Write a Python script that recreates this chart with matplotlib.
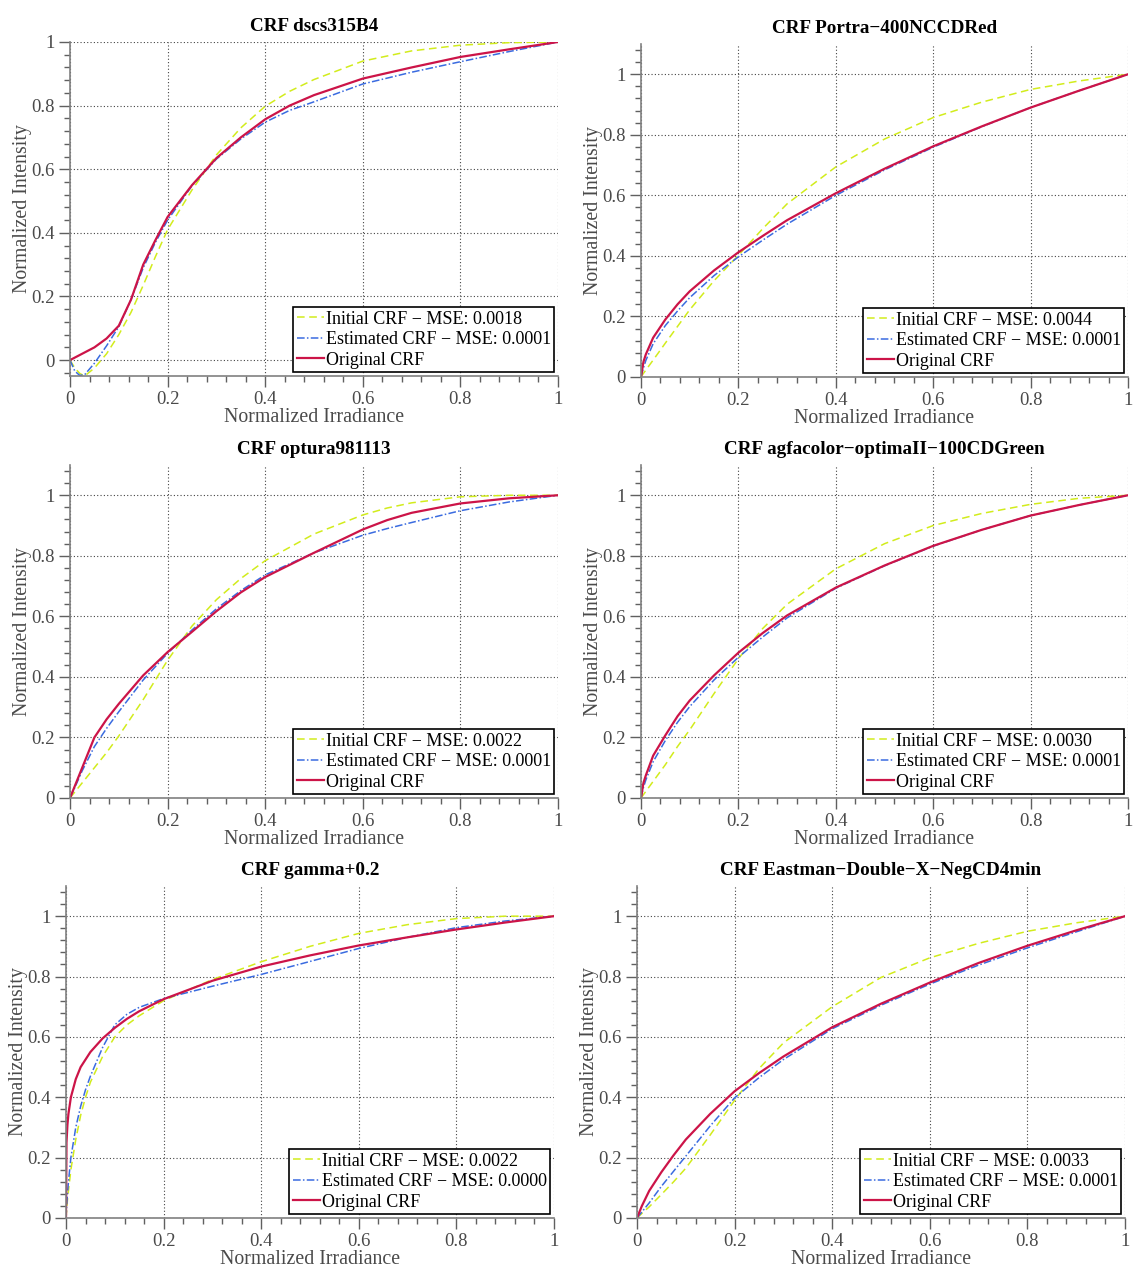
import matplotlib
matplotlib.use("Agg")
import matplotlib.pyplot as plt
from matplotlib.ticker import MultipleLocator, FuncFormatter

plt.rcParams['font.family'] = ['Liberation Serif', 'DejaVu Serif']

titles = ["CRF dscs315B4", "CRF Portra\u2212400NCCDRed", "CRF optura981113",
          "CRF agfacolor\u2212optimaII\u2212100CDGreen", "CRF gamma+0.2",
          "CRF Eastman\u2212Double\u2212X\u2212NegCD4min"]
mse_init = ["0.0018", "0.0044", "0.0022", "0.0030", "0.0022", "0.0033"]
mse_est = ["0.0001", "0.0001", "0.0001", "0.0001", "0.0000", "0.0001"]

# Panel 1
x1 = [0, 0.01, 0.02, 0.03, 0.05, 0.075, 0.1, 0.125, 0.15, 0.175, 0.2, 0.25, 0.3, 0.35, 0.4, 0.45, 0.5, 0.6, 0.7, 0.8, 0.9, 1.0]
orig1 = [0, 0.008, 0.016, 0.024, 0.04, 0.068, 0.108, 0.19, 0.30, 0.377, 0.45, 0.55, 0.635, 0.70, 0.757, 0.80, 0.833, 0.885, 0.92, 0.953, 0.977, 1.0]
est1 = [0, -0.035, -0.048, -0.046, -0.01, 0.045, 0.105, 0.19, 0.29, 0.37, 0.44, 0.548, 0.632, 0.695, 0.748, 0.785, 0.812, 0.868, 0.905, 0.938, 0.97, 1.0]
init1 = [0, -0.025, -0.042, -0.05, -0.025, 0.02, 0.08, 0.15, 0.235, 0.325, 0.41, 0.535, 0.645, 0.73, 0.798, 0.845, 0.882, 0.94, 0.972, 0.99, 0.998, 1.0]

# Panel 2
x2 = [0, 0.005, 0.01, 0.025, 0.05, 0.075, 0.1, 0.15, 0.2, 0.25, 0.3, 0.4, 0.5, 0.6, 0.7, 0.8, 0.9, 1.0]
orig2 = [0, 0.05, 0.075, 0.13, 0.19, 0.24, 0.283, 0.352, 0.412, 0.466, 0.518, 0.607, 0.688, 0.762, 0.828, 0.89, 0.946, 1.0]
est2 = [0, 0.03, 0.055, 0.11, 0.17, 0.218, 0.262, 0.335, 0.397, 0.452, 0.505, 0.600, 0.684, 0.759, 0.827, 0.89, 0.946, 1.0]
init2 = [0, 0.012, 0.023, 0.056, 0.112, 0.167, 0.222, 0.318, 0.402, 0.49, 0.572, 0.694, 0.786, 0.857, 0.908, 0.95, 0.978, 1.0]

# Panel 3
x3 = [0, 0.01, 0.025, 0.05, 0.075, 0.1, 0.15, 0.2, 0.25, 0.3, 0.35, 0.4, 0.5, 0.6, 0.65, 0.7, 0.8, 0.9, 1.0]
orig3 = [0, 0.04, 0.1, 0.2, 0.26, 0.311, 0.405, 0.482, 0.549, 0.617, 0.679, 0.73, 0.81, 0.887, 0.918, 0.942, 0.973, 0.99, 1.0]
est3 = [0, 0.035, 0.09, 0.17, 0.23, 0.285, 0.39, 0.478, 0.555, 0.625, 0.685, 0.737, 0.81, 0.868, 0.89, 0.91, 0.949, 0.978, 1.0]
init3 = [0, 0.02, 0.05, 0.1, 0.15, 0.205, 0.325, 0.455, 0.568, 0.655, 0.725, 0.784, 0.872, 0.935, 0.958, 0.975, 0.995, 1.0, 1.0]

# Panel 4
x4 = [0, 0.005, 0.01, 0.025, 0.05, 0.075, 0.1, 0.15, 0.2, 0.25, 0.3, 0.4, 0.5, 0.6, 0.7, 0.8, 0.9, 1.0]
orig4 = [0, 0.05, 0.075, 0.14, 0.207, 0.27, 0.322, 0.405, 0.48, 0.545, 0.603, 0.695, 0.768, 0.833, 0.886, 0.933, 0.968, 1.0]
est4 = [0, 0.035, 0.06, 0.12, 0.19, 0.25, 0.302, 0.39, 0.465, 0.532, 0.595, 0.693, 0.767, 0.832, 0.886, 0.933, 0.968, 1.0]
init4 = [0, 0.011, 0.022, 0.055, 0.11, 0.17, 0.225, 0.345, 0.46, 0.56, 0.64, 0.757, 0.84, 0.9, 0.94, 0.97, 0.99, 1.0]

# Panel 5
x5 = [0, 0.001, 0.003, 0.005, 0.01, 0.02, 0.03, 0.04, 0.05, 0.075, 0.1, 0.125, 0.15, 0.2, 0.3, 0.4, 0.5, 0.6, 0.7, 0.8, 0.9, 1.0]
orig5 = [0, 0.25, 0.31, 0.345, 0.40, 0.46, 0.50, 0.525, 0.55, 0.595, 0.63, 0.66, 0.685, 0.725, 0.786, 0.833, 0.87, 0.903, 0.93, 0.956, 0.979, 1.0]
est5 = [0, 0.03, 0.08, 0.12, 0.2, 0.3, 0.37, 0.425, 0.47, 0.565, 0.64, 0.675, 0.698, 0.727, 0.768, 0.807, 0.85, 0.893, 0.93, 0.962, 0.984, 1.0]
init5 = [0, 0.02, 0.06, 0.09, 0.16, 0.26, 0.34, 0.40, 0.45, 0.535, 0.6, 0.64, 0.67, 0.72, 0.79, 0.849, 0.9, 0.943, 0.972, 0.992, 1.0, 1.0]

# Panel 6
x6 = [0, 0.01, 0.025, 0.05, 0.075, 0.1, 0.15, 0.2, 0.25, 0.3, 0.4, 0.5, 0.6, 0.7, 0.8, 0.9, 1.0]
orig6 = [0, 0.04, 0.09, 0.152, 0.208, 0.26, 0.345, 0.42, 0.48, 0.535, 0.632, 0.71, 0.78, 0.845, 0.902, 0.953, 1.0]
est6 = [0, 0.02, 0.05, 0.105, 0.155, 0.205, 0.305, 0.398, 0.465, 0.525, 0.627, 0.705, 0.775, 0.838, 0.895, 0.948, 1.0]
init6 = [0, 0.015, 0.037, 0.078, 0.12, 0.165, 0.275, 0.39, 0.495, 0.58, 0.70, 0.797, 0.862, 0.91, 0.95, 0.978, 1.0]

panels = [(x1, init1, est1, orig1), (x2, init2, est2, orig2), (x3, init3, est3, orig3),
          (x4, init4, est4, orig4), (x5, init5, est5, orig5), (x6, init6, est6, orig6)]
ylims = [(-0.05, 1.0), (0, 1.1), (0, 1.1), (0, 1.1), (0, 1.1), (0, 1.1)]

W, H = 1133, 1268
# pixel boxes: left, right, top, bottom
boxes = [(70, 558, 42, 376), (641, 1128, 44, 377),
         (70, 558, 465, 798), (641, 1128, 465, 798),
         (66, 554, 886, 1218), (637, 1125, 886, 1218)]

C_INIT = '#d2ec1c'
C_EST = '#3a6be0'
C_ORIG = '#cc1448'
TXT = '#4a4a4a'

fig = plt.figure(figsize=(W / 100, H / 100), dpi=100)

for i, (box, data) in enumerate(zip(boxes, panels)):
    l, r, t, b = box
    ax = fig.add_axes([l / W, 1 - b / H, (r - l) / W, (b - t) / H])
    x, yi, ye, yo = data
    ax.plot(x, yi, color=C_INIT, lw=1.1, ls=(0, (5, 3)),
            label='Initial CRF \u2212 MSE: ' + mse_init[i])
    ax.plot(x, ye, color=C_EST, lw=1.1, ls=(0, (5, 1.5, 1, 1.5)),
            label='Estimated CRF \u2212 MSE: ' + mse_est[i])
    ax.plot(x, yo, color=C_ORIG, lw=1.6, ls='-', label='Original CRF')
    ax.set_xlim(0, 1)
    ax.set_ylim(*ylims[i])
    ax.xaxis.set_major_locator(MultipleLocator(0.2))
    ax.yaxis.set_major_locator(MultipleLocator(0.2))
    ax.xaxis.set_minor_locator(MultipleLocator(0.04))
    ax.yaxis.set_minor_locator(MultipleLocator(0.04))
    fmt = FuncFormatter(lambda v, p: '{:g}'.format(round(v, 4)))
    ax.xaxis.set_major_formatter(fmt)
    ax.yaxis.set_major_formatter(fmt)
    ax.grid(True, which='major', color='#444444', lw=0.8, ls=(0, (1, 2)))
    for s in ('top', 'right'):
        ax.spines[s].set_visible(False)
    for s in ('left', 'bottom'):
        ax.spines[s].set_color('#808080')
        ax.spines[s].set_linewidth(1.2)
    ax.tick_params(which='major', direction='out', length=8, width=1, color='#606060',
                   labelsize=13.5, labelcolor=TXT, pad=3)
    ax.tick_params(which='minor', direction='out', length=4, width=1, color='#606060')
    ax.set_xlabel('Normalized Irradiance', fontsize=14.3, color=TXT, labelpad=0)
    ax.set_ylabel('Normalized Intensity', fontsize=14.3, color=TXT, labelpad=-0.5)
    ax.set_title(titles[i], fontsize=13.8, fontweight='bold', color='black', pad=8)
    leg = ax.legend(loc='lower right', fontsize=13, frameon=True, fancybox=False,
                    edgecolor='black', framealpha=1, handlelength=1.5,
                    handletextpad=0.1, borderpad=0.2, labelspacing=0.2,
                    borderaxespad=0.2)
    leg.get_frame().set_linewidth(1.2)

fig.savefig('out.png', dpi=100)
